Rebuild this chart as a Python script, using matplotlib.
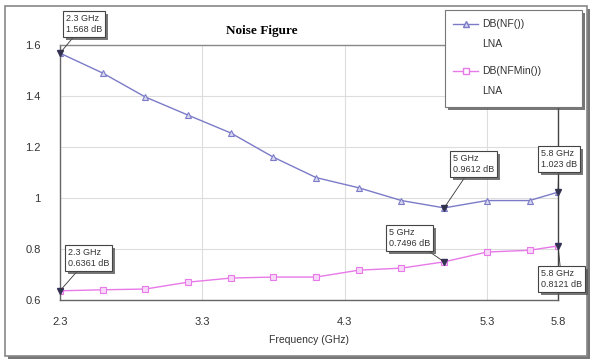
import matplotlib
matplotlib.use("Agg")
import matplotlib.pyplot as plt
import matplotlib.patheffects as pe
from matplotlib.patches import Rectangle
from matplotlib.lines import Line2D

plt.rcParams['font.family'] = ['Liberation Sans', 'DejaVu Sans']

# data
freq = [2.3, 2.6, 2.9, 3.2, 3.5, 3.8, 4.1, 4.4, 4.7, 5.0, 5.3, 5.6, 5.8]
nf = [1.568, 1.49, 1.396, 1.325, 1.255, 1.16, 1.08, 1.04, 0.99, 0.9612, 0.99, 0.99, 1.023]
nf_min = [0.6361, 0.64, 0.643, 0.67, 0.686, 0.69, 0.69, 0.717, 0.725, 0.7496, 0.788, 0.795, 0.8121]
xticks = [2.3, 3.3, 4.3, 5.3, 5.8]
yticks = [0.6, 0.8, 1.0, 1.2, 1.4, 1.6]
ytick_labels = ['0.6', '0.8', '1', '1.2', '1.4', '1.6']

blue = '#7b7bc8'
pink = '#e879e8'
shadow = [pe.SimplePatchShadow(offset=(2, -2), shadow_rgbFace='#555555', alpha=0.8), pe.Normal()]

W, H = 593, 362
fig = plt.figure(figsize=(W / 100, H / 100), dpi=100)

# outer frame
outer = Rectangle((5 / W, 6 / H), 582 / W, 350 / H, transform=fig.transFigure,
                  fc='white', ec='#888888', lw=1.2, zorder=-5)
outer.set_path_effects(shadow)
fig.patches.append(outer)

ax = fig.add_axes([60 / W, 1 - 300 / H, 498 / W, 255 / H])
ax.patch.set_alpha(0)
ax.plot(freq, nf, color=blue, lw=1, marker='^', ms=5, mfc='#d8d8f0', mec=blue, mew=0.8)
ax.plot(freq, nf_min, color=pink, lw=1, marker='s', ms=5, mfc='#f8d8f8', mec=pink, mew=0.8)

ax.set_xlim(2.3, 5.8)
ax.set_ylim(0.6, 1.6)
ax.set_xticks(xticks)
ax.set_xticklabels([str(t) for t in xticks])
ax.set_yticks(yticks)
ax.set_yticklabels(ytick_labels)
ax.tick_params(length=0, labelsize=8, colors='#333333', pad=12)
ax.tick_params(axis='y', pad=14)
ax.grid(True, color='#dddddd', lw=0.8)
for s in ax.spines.values():
    s.set_color('#666666')
    s.set_linewidth(1.0)
ax.spines['top'].set_color('#888888')
ax.spines['right'].set_color('#444444')
ax.set_xlabel('Frequency (GHz)', fontsize=7.5, color='#333333', labelpad=6)

fig.text(262 / W, 1 - 31 / H, 'Noise Figure', family='Liberation Serif',
         fontweight='bold', fontsize=9.5, ha='center', va='center')

# markers with annotations
marks = [
    (0, nf, (66, H - 14)),
    (9, nf, (453, H - 154)),
    (12, nf, (541, H - 149)),
    (0, nf_min, (68, H - 248)),
    (9, nf_min, (389, H - 228)),
    (12, nf_min, (541, H - 269)),
]
for i, series, pos in marks:
    x, y = freq[i], series[i]
    ax.plot([x], [y], marker='v', color='#333355', ms=4.5, clip_on=False, zorder=5)
    label = f"{x:g} GHz\n{y:g} dB"
    a = ax.annotate(label, xy=(x, y), xytext=pos, textcoords='figure pixels',
                    fontsize=6.5, color='#333333', ha='left', va='top', linespacing=1.35,
                    bbox=dict(boxstyle='square,pad=0.3', fc='white', ec='#444444', lw=0.8),
                    arrowprops=dict(arrowstyle='-', color='#333333', lw=0.6, shrinkA=0, shrinkB=0),
                    annotation_clip=False, zorder=6)
    a.get_bbox_patch().set_path_effects(shadow)

# legend box
lg = Rectangle((445 / W, 1 - 107 / H), 137 / W, 97 / H, transform=fig.transFigure,
               fc='white', ec='#777777', lw=0.8, zorder=3)
lg.set_path_effects(shadow)
fig.patches.append(lg)
fig.lines.append(Line2D([453 / W, 465.5 / W, 478 / W], [1 - 24 / H] * 3, transform=fig.transFigure,
                        color=blue, lw=1, marker='^', ms=5, mfc='#d8d8f0', markevery=[1], zorder=4))
fig.lines.append(Line2D([453 / W, 465.5 / W, 478 / W], [1 - 71 / H] * 3, transform=fig.transFigure,
                        color=pink, lw=1, marker='s', ms=5, mfc='white', markevery=[1], zorder=4))
fig.text(482 / W, 1 - 24 / H, 'DB(NF())', fontsize=7.5, color='#333333', va='center', zorder=5)
fig.text(482 / W, 1 - 44 / H, 'LNA', fontsize=7.5, color='#333333', va='center', zorder=5)
fig.text(482 / W, 1 - 71 / H, 'DB(NFMin())', fontsize=7.5, color='#333333', va='center', zorder=5)
fig.text(482 / W, 1 - 91 / H, 'LNA', fontsize=7.5, color='#333333', va='center', zorder=5)

fig.savefig('out.png', dpi=100)
